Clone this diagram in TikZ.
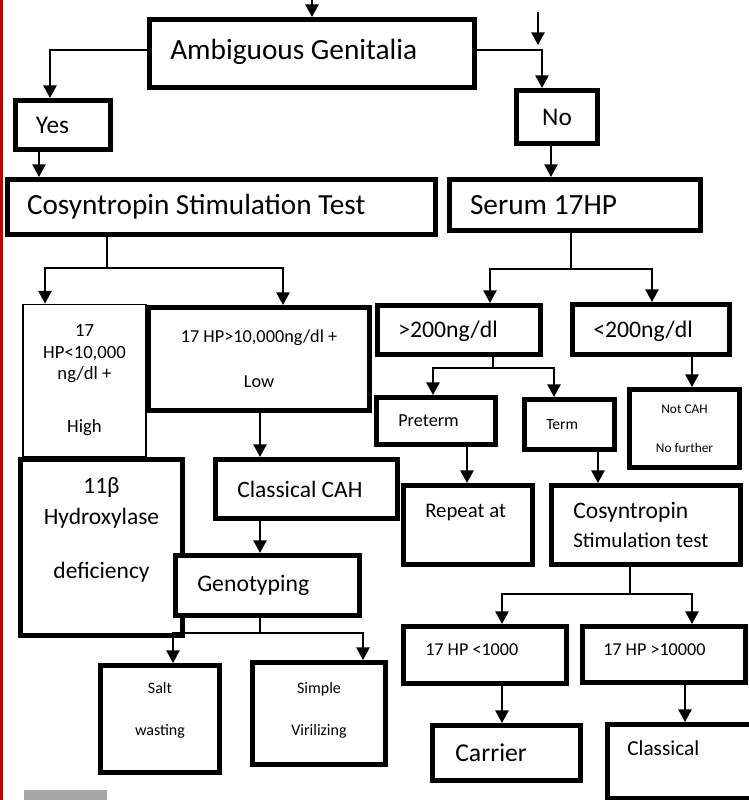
\documentclass[tikz,border=0pt]{standalone}
\usepackage{fontspec}
\setmainfont{Carlito}
\usetikzlibrary{arrows.meta}
\definecolor{flowred}{HTML}{C00000}
\definecolor{bargrey}{HTML}{A6A6A6}

\begin{document}
\begin{tikzpicture}[x=0.75pt, y=-0.75pt,
    box/.style={draw, line width=3.4pt, fill=white, inner sep=0pt},
    thinbox/.style={draw, line width=1.4pt, fill=white, inner sep=0pt},
    sz/.style 2 args={minimum width=#1*0.75pt, minimum height=#2*0.75pt},
    lft/.style={align=flush left, text width=#1*0.75pt},
    fs/.style 2 args={font=\fontsize{#1}{#2}\selectfont},
    link/.style={line width=1.2pt},
    arr/.style={link, -{Triangle[width=10pt,length=9.5pt]}}]
  \useasboundingbox (0,0) rectangle (749,800);
  \clip (0,0) rectangle (749,800);

  % page rule and footer bar
  \fill[flowred] (0,0) rectangle (2.7,800);
  \fill[bargrey] (24,790) rectangle (107,800);

  % top level
  \node[box, sz={325.5}{68.5}, lft=283.5, text depth=6pt, fs={22}{26}] (amb) at (312,53.5) {Ambiguous Genitalia};
  \node[box, sz={95.5}{49.5}, lft=54, fs={19}{23}] (yes) at (63,125) {Yes};
  \node[box, sz={81.5}{53.5}, fs={19}{23}] (no) at (557,117) {No};
  \node[box, sz={428.5}{55.5}, lft=389, fs={21.9}{26}] (cst) at (221.5,207) {Cosyntropin Stimulation Test};
  \node[box, sz={251.5}{51.5}, lft=210, fs={22}{26}] (serum) at (575,205) {Serum 17HP};

  % left branch
  \node[thinbox, sz={123.5}{152}, align=center, fs={14}{16}] (lowhp) at (84.5,380.5)
    {17\\HP<10,000\\ng/dl +\\[24pt]High};
  \node[box, sz={221.5}{103.5}, align=center, fs={13.7}{16}] (highhp) at (259,359)
    {17 HP>10,000ng/dl +\\[18pt]Low};
  \node[box, sz={162.5}{176.5}, align=center, fs={17.6}{23}] (hyd) at (101.5,547.5)
    {11β\\Hydroxylase\\[18pt]deficiency\\[6pt]\mbox{}};
  \node[box, sz={182.5}{59.5}, lft=138.5, fs={17.6}{21}] (classic) at (306.5,489) {Classical CAH};
  \node[box, sz={184.5}{60.5}, lft=140.5, fs={17.8}{21}] (geno) at (267.5,585.5) {Genotyping};
  \node[box, sz={119.5}{107.5}, align=center, fs={12}{14.5}] (salt) at (160,719)
    {Salt\\[17pt]wasting\\\mbox{}};
  \node[box, sz={133.5}{102.5}, align=center, fs={12}{14.5}] (simple) at (319,713.5)
    {Simple\\[17pt]Virilizing\\[-7pt]\mbox{}};

  % right branch
  \node[box, sz={163.5}{49.5}, lft=121.5, text depth=1pt, fs={17.8}{21}] (gt200) at (459,330) {>200ng/dl};
  \node[box, sz={157.5}{50.5}, lft=115.5, text depth=1pt, fs={17.8}{21}] (lt200) at (651,329.5) {<200ng/dl};
  \node[box, sz={119.5}{47.5}, lft=75.5, fs={13.7}{16}] (preterm) at (436,421) {Preterm};
  \node[box, sz={90.5}{50.5}, lft=46.5, fs={11.7}{14}] (term) at (569.5,424.5) {Term};
  \node[box, sz={110.5}{78.5}, align=center, fs={10}{12}] (notcah) at (684.5,428.5)
    {Not CAH\\[17pt]No further};
  \node[box, sz={129.5}{79.5}, lft=85.5, text depth=22pt, fs={15.6}{19}] (repeat) at (468,525) {Repeat at};
  \node[box, sz={189.5}{79.5}, lft=145.5, fs={17.7}{22}] (cst2) at (646,525)
    {Cosyntropin\\{\fontsize{15.8}{22}\selectfont Stimulation test}};
  \node[box, sz={163.5}{57.5}, lft=119.5, text depth=7.5pt, fs={13.6}{16}] (lt1000) at (485,655) {17 HP <1000};
  \node[box, sz={163.5}{56.5}, lft=121.5, text depth=7pt, fs={13.6}{16}] (gt10000) at (664,654.5) {17 HP >10000};
  \node[box, sz={148.5}{55.5}, lft=102.5, fs={19.3}{23}] (carrier) at (506.5,753) {Carrier};
  \node[box, sz={180.5}{74.5}, lft=140.5, text depth=20pt, fs={16}{19}] (classical) at (697.5,761.5) {Classical};

  % entry arrows
  \coordinate (in1) at (312,0);
  \coordinate (in2a) at (538,12);
  \coordinate (in2b) at (538,45);
  \draw[arr] (in1) -- (amb);
  \draw[arr] (in2a) -- (in2b);

  % yes / no split
  \draw[arr] ([yshift=2.6pt]amb.west) -| (yes.north -| 50,0);
  \draw[arr] ([yshift=2.6pt]amb.east) -| (no.north -| 542,0);
  \draw[arr] (yes.south -| 39,0) -- (cst.north -| 39,0);
  \draw[arr] (no.south -| 551,0) -- (serum.north -| 551,0);

  % stimulation test results
  \coordinate (fa) at (107,268);
  \draw[link] (cst.south -| fa) -- (fa);
  \draw[arr] (fa) -| (lowhp.north -| 45,0);
  \draw[arr] (fa) -| (highhp.north -| 283,0);
  \draw[arr] (highhp.south -| 260,0) -- (classic.north -| 260,0);
  \draw[arr] (classic.south -| 260,0) -- (geno.north -| 260,0);

  % genotyping
  \coordinate (fd) at (260,633);
  \draw[link] (geno.south -| fd) -- (fd);
  \draw[arr] (fd) -| (salt.north -| 173,0);
  \draw[arr] (fd) -| (simple.north -| 363,0);

  % serum 17HP levels
  \coordinate (fb) at (571,269);
  \draw[link] (serum.south -| fb) -- (fb);
  \draw[arr] (fb) -| (gt200.north -| 490,0);
  \draw[arr] (fb) -| (lt200.north -| 652,0);
  \draw[arr] (lt200.south -| 692,0) -- (notcah.north -| 692,0);

  \coordinate (fc) at (493,368);
  \draw[link] (gt200.south -| fc) -- (fc);
  \draw[arr] (fc) -| (preterm.north -| 433,0);
  \draw[arr] (fc) -| (term.north -| 554,0);
  \draw[arr] (preterm.south -| 467,0) -- (repeat.north -| 467,0);
  \draw[arr] (term.south -| 598,0) -- (cst2.north -| 598,0);

  % second stimulation test
  \coordinate (fe) at (630,594);
  \draw[link] (cst2.south -| fe) -- (fe);
  \draw[arr] (fe) -| (lt1000.north -| 502,0);
  \draw[arr] (fe) -| (gt10000.north -| 692,0);
  \draw[arr] (lt1000.south -| 502,0) -- (carrier.north -| 502,0);
  \draw[arr] (gt10000.south -| 685,0) -- (classical.north -| 685,0);
\end{tikzpicture}
\end{document}
